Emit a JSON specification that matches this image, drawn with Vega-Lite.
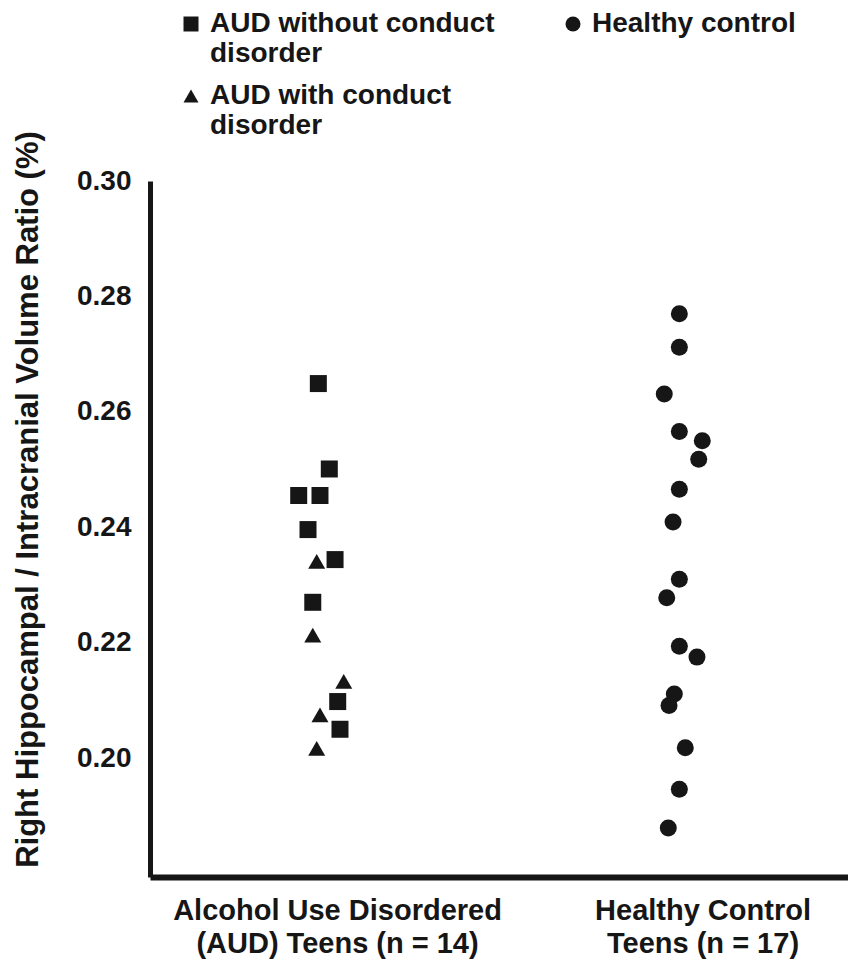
{
  "$schema": "https://vega.github.io/schema/vega-lite/v6.json",
  "autosize": "none",
  "width": 698,
  "height": 696,
  "padding": {"left": 150, "top": 181, "right": 0, "bottom": 85},
  "background": "white",
  "config": {
    "view": {"stroke": null},
    "font": "Liberation Sans"
  },
  "data": {
    "values": [
      {"group": "AUD", "subgroup": "AUD without conduct disorder", "ratio": 0.2649, "jitter": -0.210},
      {"group": "AUD", "subgroup": "AUD without conduct disorder", "ratio": 0.2501, "jitter": -0.090},
      {"group": "AUD", "subgroup": "AUD without conduct disorder", "ratio": 0.2455, "jitter": -0.425},
      {"group": "AUD", "subgroup": "AUD without conduct disorder", "ratio": 0.2455, "jitter": -0.192},
      {"group": "AUD", "subgroup": "AUD without conduct disorder", "ratio": 0.2396, "jitter": -0.323},
      {"group": "AUD", "subgroup": "AUD without conduct disorder", "ratio": 0.2344, "jitter": -0.027},
      {"group": "AUD", "subgroup": "AUD without conduct disorder", "ratio": 0.2270, "jitter": -0.271},
      {"group": "AUD", "subgroup": "AUD without conduct disorder", "ratio": 0.2098, "jitter": 0.002},
      {"group": "AUD", "subgroup": "AUD without conduct disorder", "ratio": 0.2050, "jitter": 0.027},
      {"group": "AUD", "subgroup": "AUD with conduct disorder", "ratio": 0.2341, "jitter": -0.228},
      {"group": "AUD", "subgroup": "AUD with conduct disorder", "ratio": 0.2213, "jitter": -0.271},
      {"group": "AUD", "subgroup": "AUD with conduct disorder", "ratio": 0.2133, "jitter": 0.068},
      {"group": "AUD", "subgroup": "AUD with conduct disorder", "ratio": 0.2075, "jitter": -0.192},
      {"group": "AUD", "subgroup": "AUD with conduct disorder", "ratio": 0.2017, "jitter": -0.228},
      {"group": "Healthy", "subgroup": "Healthy control", "ratio": 0.2770, "jitter": -0.259},
      {"group": "Healthy", "subgroup": "Healthy control", "ratio": 0.2712, "jitter": -0.259},
      {"group": "Healthy", "subgroup": "Healthy control", "ratio": 0.2631, "jitter": -0.424},
      {"group": "Healthy", "subgroup": "Healthy control", "ratio": 0.2566, "jitter": -0.259},
      {"group": "Healthy", "subgroup": "Healthy control", "ratio": 0.2550, "jitter": -0.008},
      {"group": "Healthy", "subgroup": "Healthy control", "ratio": 0.2518, "jitter": -0.047},
      {"group": "Healthy", "subgroup": "Healthy control", "ratio": 0.2466, "jitter": -0.259},
      {"group": "Healthy", "subgroup": "Healthy control", "ratio": 0.2409, "jitter": -0.328},
      {"group": "Healthy", "subgroup": "Healthy control", "ratio": 0.2310, "jitter": -0.259},
      {"group": "Healthy", "subgroup": "Healthy control", "ratio": 0.2278, "jitter": -0.397},
      {"group": "Healthy", "subgroup": "Healthy control", "ratio": 0.2194, "jitter": -0.259},
      {"group": "Healthy", "subgroup": "Healthy control", "ratio": 0.2175, "jitter": -0.066},
      {"group": "Healthy", "subgroup": "Healthy control", "ratio": 0.2111, "jitter": -0.314},
      {"group": "Healthy", "subgroup": "Healthy control", "ratio": 0.2091, "jitter": -0.372},
      {"group": "Healthy", "subgroup": "Healthy control", "ratio": 0.2018, "jitter": -0.194},
      {"group": "Healthy", "subgroup": "Healthy control", "ratio": 0.1946, "jitter": -0.259},
      {"group": "Healthy", "subgroup": "Healthy control", "ratio": 0.1879, "jitter": -0.380}
    ]
  },
  "mark": {"type": "point", "filled": true, "size": 289, "opacity": 1, "color": "#161616", "strokeWidth": 0},
  "encoding": {
    "x": {
      "field": "group",
      "type": "nominal",
      "sort": ["AUD", "Healthy"],
      "scale": {"type": "band", "paddingInner": 0.5, "paddingOuter": 0.2049, "align": 0.642},
      "axis": {
        "title": null,
        "domainColor": "#161616",
        "domainWidth": 6,
        "ticks": false,
        "tickSize": 0,
        "labelAngle": 0,
        "labelFont": "Liberation Sans",
        "labelFontWeight": "bold",
        "labelFontSize": 29,
        "labelLineHeight": 33,
        "labelColor": "#161616",
        "labelPadding": 19,
        "labelBaseline": "top",
        "labelLimit": 500,
        "labelExpr": "datum.value == 'AUD' ? ['Alcohol Use Disordered', '(AUD) Teens (n = 14)'] : ['Healthy Control', 'Teens (n = 17)']"
      }
    },
    "xOffset": {
      "field": "jitter",
      "type": "quantitative",
      "scale": {"domain": [-1, 1]}
    },
    "y": {
      "field": "ratio",
      "type": "quantitative",
      "scale": {"domain": [0.1794, 0.30], "zero": false, "nice": false},
      "axis": {
        "title": "Right Hippocampal / Intracranial Volume Ratio (%)",
        "titleFont": "Liberation Sans",
        "titleFontSize": 31,
        "titleFontWeight": "bold",
        "titleColor": "#161616",
        "titlePadding": 32,
        "titleY": 318,
        "values": [0.20, 0.22, 0.24, 0.26, 0.28, 0.30],
        "format": ".2f",
        "grid": false,
        "ticks": false,
        "tickSize": 0,
        "domainColor": "#161616",
        "domainWidth": 5,
        "labelFont": "Liberation Sans",
        "labelFontSize": 28,
        "labelFontWeight": "bold",
        "labelColor": "#161616",
        "labelPadding": 19
      }
    },
    "shape": {
      "field": "subgroup",
      "type": "nominal",
      "scale": {
        "domain": ["AUD without conduct disorder", "Healthy control", "AUD with conduct disorder"],
        "range": ["square", "circle", "triangle-up"]
      },
      "legend": {
        "title": null,
        "orient": "none",
        "legendX": 27,
        "legendY": -171,
        "direction": "horizontal",
        "columns": 2,
        "columnPadding": 64,
        "rowPadding": 14,
        "padding": 0,
        "symbolSize": 225,
        "symbolType": "square",
        "symbolFillColor": "#161616",
        "symbolStrokeWidth": 0,
        "labelFont": "Liberation Sans",
        "labelFontSize": 28,
        "labelFontWeight": "bold",
        "labelColor": "#161616",
        "labelOffset": 5,
        "labelLimit": 500,
        "labelBaseline": "middle",
        "labelExpr": "datum.label == 'Healthy control' ? [datum.label, ' '] : [replace(datum.label, ' disorder', ''), 'disorder']",
        "encode": {
          "labels": {
            "enter": {"lineHeight": {"value": 33}},
            "update": {"lineHeight": {"value": 33}}
          }
        }
      }
    }
  }
}
